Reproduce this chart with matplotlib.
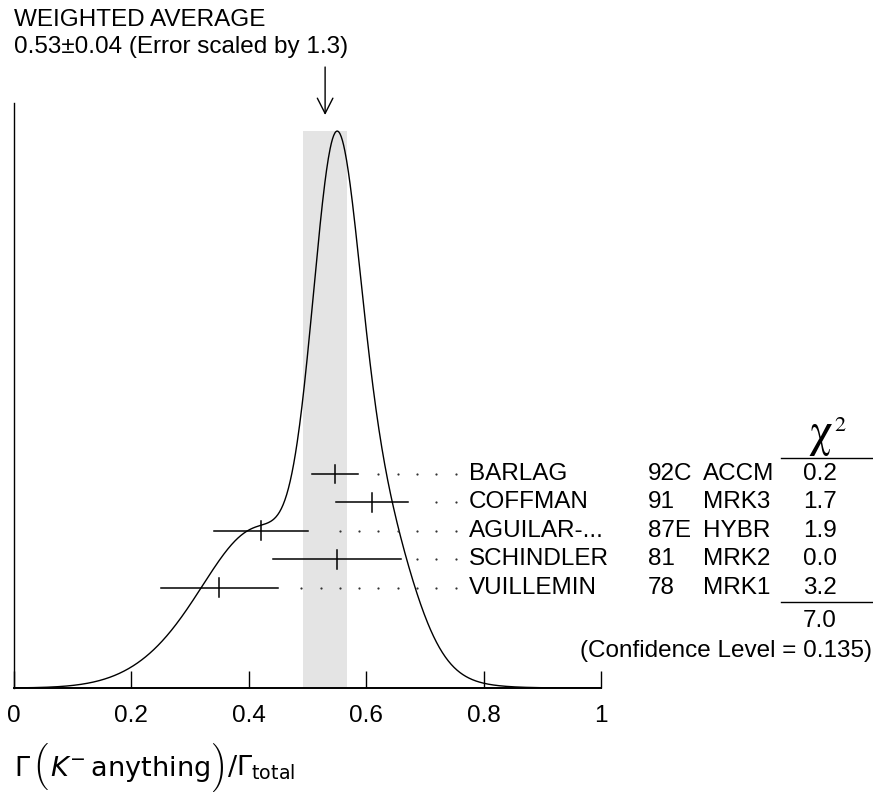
import numpy as np
import matplotlib
matplotlib.use('Agg')
from matplotlib import pyplot as plt

plt.rcParams['font.family'] = ['Liberation Sans', 'DejaVu Sans']
plt.rcParams['mathtext.fontset'] = 'dejavusans'

names = ['BARLAG', 'COFFMAN', 'AGUILAR-...', 'SCHINDLER', 'VUILLEMIN']
years = ['92C', '91', '87E', '81', '78']
techs = ['ACCM', 'MRK3', 'HYBR', 'MRK2', 'MRK1']
values = [0.547, 0.61, 0.421, 0.551, 0.35]
errors = [0.039, 0.061, 0.080, 0.109, 0.10]
chi2 = ['0.2', '1.7', '1.9', '0.0', '3.2']
chi2_total = '7.0'
avg = 0.53
avg_err = 0.037
xticks = [0, 0.2, 0.4, 0.6, 0.8, 1]
xticklabels = ['0', '0.2', '0.4', '0.6', '0.8', '1']

W, H = 873, 793
fs = 17.5
fig = plt.figure(figsize=(W/100, H/100), dpi=100)
ax = fig.add_axes([14/W, 1-688/H, 587/W, 585/H])

# ideogram: one gaussian per measurement, area ~ 1/sigma
x = np.linspace(0, 1, 1000)
ideo = np.zeros_like(x)
for v, e in zip(values, errors):
	ideo += (1/e)*np.exp(-0.5*((x-v)/e)**2)/(e*np.sqrt(2*np.pi))
ideo = ideo/ideo.max()*0.952

ax.axvspan(avg-avg_err, avg+avg_err, ymin=0, ymax=0.952, color='#e4e4e4', lw=0, zorder=0)
ax.plot(x, ideo, c='black', lw=1.0, zorder=2)

# measurements, error bars, dotted leaders and the table
row0 = 0.3658
dy = 0.04855
dot_end = 0.7525
dot_step = 0.0329
for i, (v, e) in enumerate(zip(values, errors)):
	y = row0 - i*dy
	ax.plot([v-e, v+e], [y, y], c='black', lw=1.1, zorder=3)
	ax.plot([v, v], [y-0.016, y+0.016], c='black', lw=1.1, zorder=3)
	dots = []
	k = 0
	while dot_end - k*dot_step > v+e+0.024:
		dots.append(dot_end - k*dot_step)
		k += 1
	ax.plot(dots, [y]*len(dots), ls='none', marker='o', ms=1.6, mew=0, c='#333333', zorder=3)
	ax.text(0.775, y, names[i], fontsize=fs, va='center', ha='left', clip_on=False)
	ax.text(1.080, y, years[i], fontsize=fs, va='center', ha='left', clip_on=False)
	ax.text(1.174, y, techs[i], fontsize=fs, va='center', ha='left', clip_on=False)
	ax.text(1.373, y, chi2[i], fontsize=fs, va='center', ha='center', clip_on=False)

# chi2 column decorations
ax.text(1.374, 0.4137, '\u03c7', fontsize=34, ha='center', va='baseline',
	family=['STIXGeneral', 'DejaVu Serif'], clip_on=False)
ax.text(1.397, 0.440, '2', fontsize=16, ha='left', va='baseline',
	family=['STIXGeneral', 'DejaVu Serif'], clip_on=False)
ax.plot([1.3066, 1.4634], [0.3932, 0.3932], c='black', lw=1.0, clip_on=False)
ax.plot([1.3066, 1.4634], [0.147, 0.147], c='black', lw=1.0, clip_on=False)
ax.text(1.373, 0.1145, chi2_total, fontsize=fs, va='center', ha='center', clip_on=False)
ax.text(1.4617, 0.063, '(Confidence Level = 0.135)', fontsize=fs, va='center', ha='right', clip_on=False)

# weighted average label and arrow
ax.annotate('', xy=(avg, 0.9795), xytext=(avg, 1.0615),
	arrowprops=dict(arrowstyle='->,head_length=0.55,head_width=0.28', lw=1.0, color='black',
	mutation_scale=20, shrinkA=0, shrinkB=0), annotation_clip=False)
fig.text(14/W, 1-26/H, 'WEIGHTED AVERAGE', fontsize=fs, ha='left', va='baseline')
fig.text(14/W, 1-53/H, '0.53\u00b10.04 (Error scaled by 1.3)', fontsize=fs, ha='left', va='baseline')

ax.set_xlim(0, 1)
ax.set_ylim(0, 1)
ax.spines['top'].set_visible(False)
ax.spines['right'].set_visible(False)
ax.set_yticks([])
ax.set_xticks(xticks)
ax.set_xticklabels(xticklabels)
ax.tick_params(axis='x', direction='in', length=12, width=1, labelsize=fs, pad=12)
ax.spines['left'].set_linewidth(1)
ax.spines['bottom'].set_linewidth(1.4)

# x label built piece by piece so the parentheses can be large
renderer = fig.canvas.get_renderer()
base = 776
xpos = 14
lab = [
	(r'$\Gamma$', 'math', 1),
	('\u00b3', 'paren', 2),
	(r'$K^{-}\,\mathrm{anything}$', 'math', 1),
	('\u00b4', 'paren', 1),
	(r'$/\Gamma_{\mathrm{total}}$', 'math', 0),
]
for s, kind, gap in lab:
	if kind == 'paren':
		t = fig.text(xpos/W, 1-(base-9)/H, s, fontsize=19, family='cmex10', ha='left', va='center')
	else:
		t = fig.text(xpos/W, 1-base/H, s, fontsize=19.5, ha='left', va='baseline')
	bb = t.get_window_extent(renderer)
	xpos += bb.width + gap

fig.savefig('out.png', dpi=100)
